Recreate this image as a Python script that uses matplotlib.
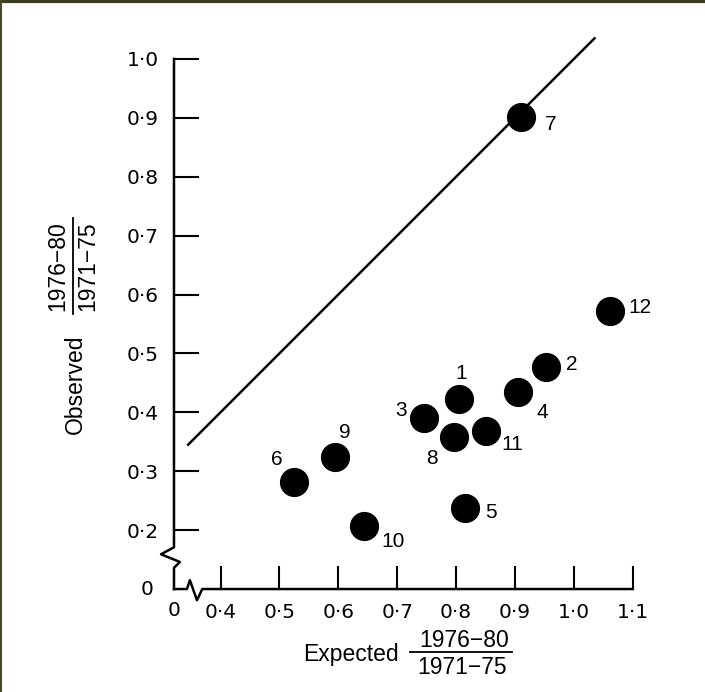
import matplotlib
matplotlib.use("Agg")
import matplotlib.pyplot as plt
from matplotlib.lines import Line2D

plt.rcParams['font.family'] = ['Liberation Sans', 'DejaVu Sans']

# regions 1-12: expected vs observed ratio (1976-80 / 1971-75)
regions = ['1', '2', '3', '4', '5', '6', '7', '8', '9', '10', '11', '12']
expected = [0.805, 0.953, 0.745, 0.905, 0.815, 0.525, 0.910, 0.796, 0.594, 0.644, 0.851, 1.061]
observed = [0.423, 0.477, 0.390, 0.434, 0.238, 0.282, 0.901, 0.358, 0.324, 0.207, 0.368, 0.572]

# label offsets in pixels (dx, dy)
label_off = {'1': (2, 25), '2': (26, 2), '3': (-23, 8), '4': (24, -20),
             '5': (26, -5), '6': (-17, 22), '7': (30, -7), '8': (-22, -21),
             '9': (10, 25), '10': (29, -15), '11': (26, -13), '12': (30, 4)}

xticks = [0.4, 0.5, 0.6, 0.7, 0.8, 0.9, 1.0, 1.1]
xticklabels = ['0·4', '0·5', '0·6', '0·7', '0·8', '0·9', '1·0', '1·1']
yticks = [0.2, 0.3, 0.4, 0.5, 0.6, 0.7, 0.8, 0.9, 1.0]
yticklabels = ['0·2', '0·3', '0·4', '0·5', '0·6', '0·7', '0·8', '0·9', '1·0']

x0, y0 = 0.321, 0.1  # where the broken axes meet

fig = plt.figure(figsize=(7.05, 6.92), dpi=100)
ax = fig.add_axes([0.2468, 0.1488, 0.6759, 0.8086])
ax.set_xlim(x0, 1.13)
ax.set_ylim(y0, 1.05)
for s in ax.spines.values():
    s.set_visible(False)

lw = 1.8
# line of equality
ax.plot([0.345, 1.035], [0.345, 1.035], color='black', lw=lw)

# points
ax.scatter(expected, observed, s=400, color='black', zorder=3)
for r, x, y in zip(regions, expected, observed):
    dx, dy = label_off[r]
    ax.annotate(r, (x, y), xytext=(dx, dy), textcoords='offset pixels',
                ha='center', va='center', fontsize=15)

# axes with break marks
ax.plot([x0, x0, x0, 0.299, 0.331, x0, x0],
        [1.0, 0.2, 0.171, 0.159, 0.146, 0.136, y0],
        color='black', lw=lw, clip_on=False)
ax.plot([x0, 0.343, 0.348, 0.360, 0.369, 1.1],
        [y0, y0, 0.115, 0.081, y0, y0],
        color='black', lw=lw, clip_on=False)

tick_font = dict(family='DejaVu Sans', size=14.5)
ax.set_xticks(xticks)
ax.set_xticklabels(xticklabels, fontdict=tick_font)
ax.set_yticks(yticks)
ax.set_yticklabels(yticklabels, fontdict=tick_font)
ax.tick_params(axis='x', direction='in', length=16.5, width=1.5, pad=10)
ax.tick_params(axis='y', direction='in', length=18, width=1.5, pad=11)
ax.text(x0, y0 - 0.036, '0', ha='center', va='center', fontdict=tick_font)
ax.text(x0 - 0.045, y0, '0', ha='center', va='center', fontdict=tick_font)

# axis titles with fractions
fig.text(0.498, 0.0535, 'Expected', ha='center', va='center', fontsize=16.5)
fig.text(0.658, 0.0737, '1976−80', ha='center', va='center', fontsize=16.5)
fig.text(0.656, 0.0347, '1971−75', ha='center', va='center', fontsize=16.5)
fig.add_artist(Line2D([410 / 705, 512 / 705], [0.0578, 0.0578], color='black', lw=1.3))

fig.text(0.1064, 0.445, 'Observed', ha='center', va='center', rotation=90, fontsize=16.5)
fig.text(0.0823, 0.6156, '1976−80', ha='center', va='center', rotation=90, fontsize=16.5)
fig.text(0.1248, 0.6156, '1971−75', ha='center', va='center', rotation=90, fontsize=16.5)
fig.add_artist(Line2D([0.1035, 0.1035], [0.546, 0.685], color='black', lw=1.3))

# scan border
fig.add_artist(Line2D([0, 1], [0.998, 0.998], color='#3b3b22', lw=3))
fig.add_artist(Line2D([0.001, 0.001], [0, 1], color='#4a4a2a', lw=1.5))

fig.savefig('out.png', dpi=100)
